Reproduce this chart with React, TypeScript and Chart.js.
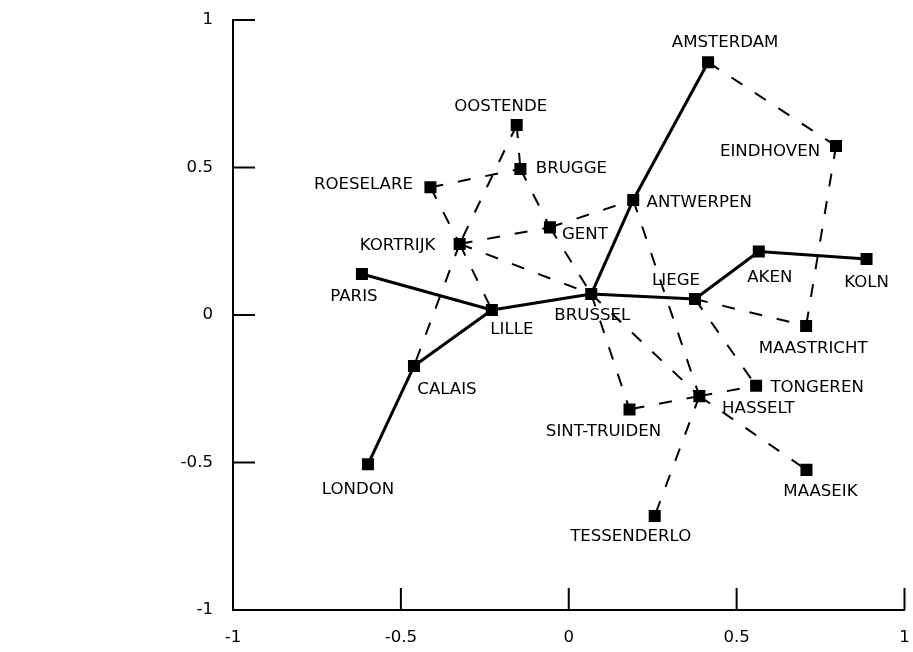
import React, { useEffect, useRef } from "react";
import { Chart, registerables } from "chart.js";

Chart.register(...registerables);

// ---- Data ----
const cities = [
  "AMSTERDAM", "EINDHOVEN", "OOSTENDE", "BRUGGE", "ROESELARE", "GENT",
  "ANTWERPEN", "KORTRIJK", "AKEN", "KOLN", "PARIS", "BRUSSEL", "LIEGE",
  "LILLE", "MAASTRICHT", "CALAIS", "TONGEREN", "HASSELT", "SINT-TRUIDEN",
  "LONDON", "MAASEIK", "TESSENDERLO",
];
const xValues = [
  0.415, 0.796, -0.155, -0.144, -0.412, -0.056,
  0.192, -0.325, 0.566, 0.887, -0.616, 0.067, 0.376,
  -0.229, 0.707, -0.461, 0.558, 0.389, 0.181,
  -0.598, 0.708, 0.256,
];
const yValues = [
  0.857, 0.573, 0.644, 0.495, 0.433, 0.297,
  0.390, 0.241, 0.215, 0.190, 0.139, 0.071, 0.054,
  0.017, -0.037, -0.173, -0.240, -0.275, -0.320,
  -0.506, -0.525, -0.681,
];
const solidEdges: [string, string][] = [
  ["LONDON", "CALAIS"], ["CALAIS", "LILLE"], ["PARIS", "LILLE"],
  ["LILLE", "BRUSSEL"], ["BRUSSEL", "ANTWERPEN"], ["ANTWERPEN", "AMSTERDAM"],
  ["BRUSSEL", "LIEGE"], ["LIEGE", "AKEN"], ["AKEN", "KOLN"],
];
const dashedEdges: [string, string][] = [
  ["AMSTERDAM", "EINDHOVEN"], ["EINDHOVEN", "MAASTRICHT"],
  ["ROESELARE", "BRUGGE"], ["OOSTENDE", "BRUGGE"], ["OOSTENDE", "KORTRIJK"],
  ["KORTRIJK", "CALAIS"], ["ROESELARE", "KORTRIJK"], ["KORTRIJK", "LILLE"],
  ["BRUGGE", "GENT"], ["GENT", "BRUSSEL"], ["KORTRIJK", "GENT"],
  ["GENT", "ANTWERPEN"], ["KORTRIJK", "BRUSSEL"], ["ANTWERPEN", "HASSELT"],
  ["BRUSSEL", "HASSELT"], ["HASSELT", "MAASEIK"], ["BRUSSEL", "SINT-TRUIDEN"],
  ["LIEGE", "MAASTRICHT"], ["LIEGE", "TONGEREN"], ["HASSELT", "TONGEREN"],
  ["HASSELT", "SINT-TRUIDEN"], ["HASSELT", "TESSENDERLO"],
];
const axisTicks = [-1, -0.5, 0, 0.5, 1];

// ---- Layout (label placement relative to its marker, px) ----
const labelOffsets: [number, number][] = [
  [17, -19], [-66, 6], [-16, -18], [51, 0], [-67, -3], [35, 7],
  [66, 3], [-62, 2], [11, 26], [0, 24], [-8, 23], [1, 22], [-19, -18],
  [20, 20], [7, 23], [33, 24], [61, 2], [59, 13], [-26, 22],
  [-10, 25], [14, 22], [-24, 21],
];

const FONT = '"DejaVu Sans", Verdana, sans-serif';
const FONT_SIZE = 16.6;

function pt(name: string) {
  const i = cities.indexOf(name);
  return { x: xValues[i], y: yValues[i] };
}

const labelPlugin = {
  id: "cityLabels",
  afterDatasetsDraw(chart: any) {
    const meta = chart.getDatasetMeta(0);
    const ctx = chart.ctx;
    ctx.save();
    ctx.font = `${FONT_SIZE}px ${FONT}`;
    ctx.fillStyle = "#000";
    ctx.textAlign = "center";
    ctx.textBaseline = "middle";
    meta.data.forEach((el: any, i: number) => {
      const [dx, dy] = labelOffsets[i];
      ctx.fillText(cities[i], el.x + dx, el.y + dy);
    });
    ctx.restore();
  },
};

const innerTicksPlugin = {
  id: "innerTicks",
  afterDraw(chart: any) {
    const { ctx, chartArea, scales } = chart;
    ctx.save();
    ctx.strokeStyle = "#000";
    ctx.lineWidth = 2;
    axisTicks.forEach((v) => {
      const px = scales.x.getPixelForValue(v);
      ctx.beginPath();
      ctx.moveTo(px, chartArea.bottom);
      ctx.lineTo(px, chartArea.bottom - 22);
      ctx.stroke();
      const py = scales.y.getPixelForValue(v);
      ctx.beginPath();
      ctx.moveTo(chartArea.left, py);
      ctx.lineTo(chartArea.left + 22, py);
      ctx.stroke();
    });
    ctx.restore();
  },
};

function zeroPad(s: any) {
  s.paddingTop = 0;
  s.paddingBottom = 0;
  s.paddingLeft = 0;
  s.paddingRight = 0;
}

export default function App() {
  const ref = useRef<HTMLCanvasElement | null>(null);

  useEffect(() => {
    if (!ref.current) return;
    const datasets: any[] = [
      {
        data: cities.map((_, i) => ({ x: xValues[i], y: yValues[i] })),
        pointStyle: "rect",
        pointRadius: 8.5,
        pointBackgroundColor: "#000",
        pointBorderWidth: 0,
        showLine: false,
      },
    ];
    solidEdges.forEach(([a, b]) => {
      datasets.push({
        data: [pt(a), pt(b)],
        showLine: true,
        pointRadius: 0,
        borderColor: "#000",
        borderWidth: 3,
      });
    });
    dashedEdges.forEach(([a, b]) => {
      datasets.push({
        data: [pt(a), pt(b)],
        showLine: true,
        pointRadius: 0,
        borderColor: "#000",
        borderWidth: 2,
        borderDash: [13, 15],
      });
    });

    const tickFont = { family: FONT, size: FONT_SIZE };
    const fmt = (v: any) => String(Number(v));
    const chart = new Chart(ref.current, {
      type: "scatter",
      data: { datasets },
      options: {
        animation: false,
        responsive: false,
        maintainAspectRatio: false,
        layout: { padding: { left: 0, top: 20, right: 7, bottom: 0 } },
        plugins: { legend: { display: false }, tooltip: { enabled: false } },
        scales: {
          x: {
            type: "linear",
            min: -1,
            max: 1,
            ticks: { stepSize: 0.5, color: "#000", font: tickFont, padding: 18, maxRotation: 0, callback: fmt },
            grid: { display: true, drawOnChartArea: false, drawTicks: false },
            border: { color: "#000", width: 2 },
            afterFit: (s: any) => { s.height = 42; zeroPad(s); },
          },
          y: {
            type: "linear",
            min: -1,
            max: 1,
            ticks: { stepSize: 0.5, color: "#000", font: tickFont, padding: 20, callback: fmt },
            grid: { display: true, drawOnChartArea: false, drawTicks: false },
            border: { color: "#000", width: 2 },
            afterFit: (s: any) => { s.width = 233; zeroPad(s); },
          },
        },
      } as any,
      plugins: [labelPlugin, innerTicksPlugin],
    });
    return () => chart.destroy();
  }, []);

  return (
    <div style={{ position: "fixed", left: 0, top: 0, width: 913, height: 652, background: "#fff" }}>
      <canvas ref={ref} width={913} height={652} style={{ width: 913, height: 652 }} />
    </div>
  );
}
